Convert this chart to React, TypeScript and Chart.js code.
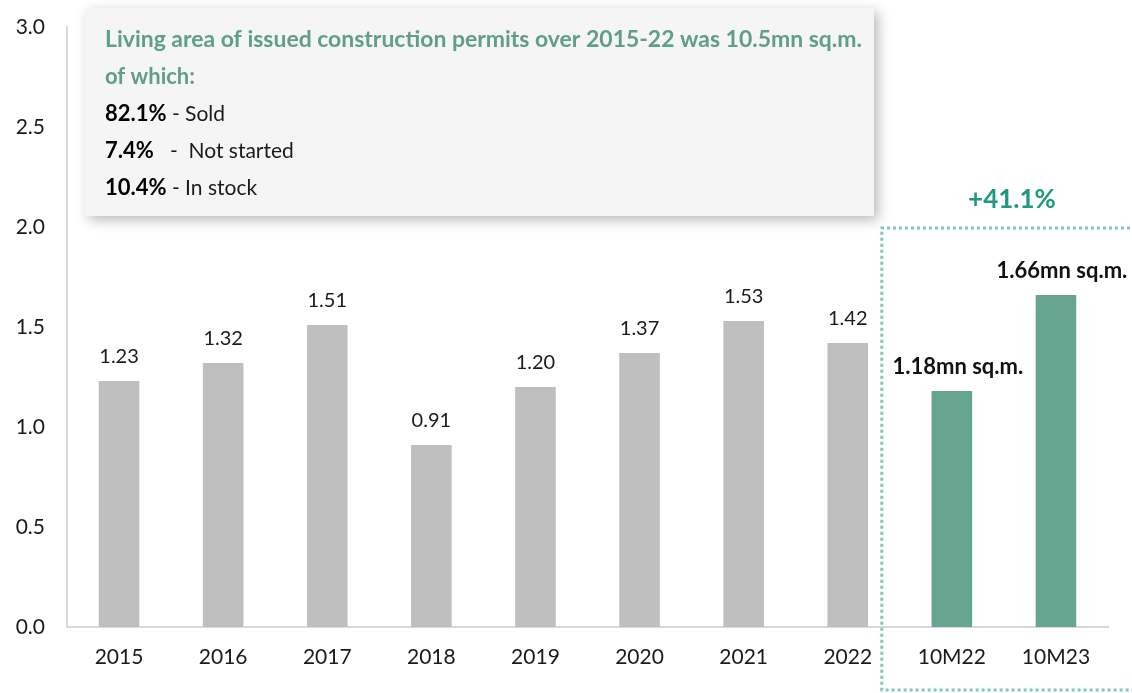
import React, { useEffect, useRef } from "react";
import { Chart, registerables } from "chart.js";

Chart.register(...registerables);

const categories = ["2015", "2016", "2017", "2018", "2019", "2020", "2021", "2022", "10M22", "10M23"];
const values = [1.23, 1.32, 1.51, 0.91, 1.2, 1.37, 1.53, 1.42, 1.18, 1.66];
const valueLabels = ["1.23", "1.32", "1.51", "0.91", "1.20", "1.37", "1.53", "1.42", "1.18mn sq.m.", "1.66mn sq.m."];
const highlighted = [false, false, false, false, false, false, false, false, true, true];
const growthLabel = "+41.1%";
const noteTitle = ["Living area of issued construction permits over 2015-22 was 10.5mn sq.m.", "of which:"];
const noteBold = ["82.1%", "7.4%", "10.4%"];
const noteRest = [" - Sold", "   -  Not started", " - In stock"];

const GRAY = "#bfbfbf";
const GREEN = "#68a591";
const FONT = "Lato, 'Open Sans', sans-serif";

const overlayPlugin = {
  id: "overlay",
  afterDatasetsDraw(chart: any) {
    const ctx = chart.ctx;
    const meta = chart.getDatasetMeta(0);
    ctx.save();
    // value labels
    meta.data.forEach((bar: any, i: number) => {
      ctx.textAlign = "center";
      ctx.textBaseline = "middle";
      if (highlighted[i]) {
        ctx.font = `bold 22px ${FONT}`;
        ctx.fillStyle = "#111111";
        ctx.fillText(valueLabels[i], bar.x + 6, bar.y - 24);
      } else {
        ctx.font = `20px ${FONT}`;
        ctx.fillStyle = "#1a1a1a";
        ctx.fillText(valueLabels[i], bar.x, bar.y - 24);
      }
    });
    // dotted highlight box
    const x0 = meta.data[8].x;
    const x1 = meta.data[9].x;
    const step = x1 - x0;
    const left = x0 - step / 2 - 18;
    const yScale = chart.scales.y;
    const top = yScale.getPixelForValue(2.0) + 1;
    ctx.strokeStyle = "#7fcab4";
    ctx.lineWidth = 3;
    ctx.setLineDash([3, 3]);
    ctx.beginPath();
    ctx.moveTo(chart.width + 10, top);
    ctx.lineTo(left, top);
    ctx.lineTo(left, 690);
    ctx.lineTo(chart.width + 10, 690);
    ctx.stroke();
    ctx.setLineDash([]);
    // growth label
    ctx.font = `bold 26px ${FONT}`;
    ctx.fillStyle = "#1f9a7f";
    ctx.textAlign = "center";
    ctx.textBaseline = "middle";
    ctx.fillText(growthLabel, 1012, 200);
    // note box
    ctx.save();
    ctx.shadowColor = "rgba(0,0,0,0.28)";
    ctx.shadowBlur = 12;
    ctx.shadowOffsetX = 4;
    ctx.shadowOffsetY = 4;
    ctx.fillStyle = "#f5f5f5";
    ctx.fillRect(85, 8, 789, 208);
    ctx.restore();
    ctx.textAlign = "left";
    ctx.textBaseline = "middle";
    ctx.fillStyle = "#5f9e88";
    ctx.font = `bold 23px ${FONT}`;
    ctx.fillText(noteTitle[0], 105, 40, 757);
    ctx.font = `bold 22px ${FONT}`;
    ctx.fillText(noteTitle[1], 105, 77);
    const ys = [114, 151, 188];
    noteBold.forEach((b, i) => {
      ctx.font = `bold 22px ${FONT}`;
      ctx.fillStyle = "#000000";
      ctx.fillText(b, 105, ys[i]);
      const w = ctx.measureText(b).width;
      ctx.font = `21px ${FONT}`;
      ctx.fillStyle = "#1a1a1a";
      ctx.fillText(noteRest[i], 105 + w, ys[i]);
    });
    ctx.restore();
  },
};

export default function App() {
  const ref = useRef<HTMLCanvasElement | null>(null);
  useEffect(() => {
    if (!ref.current) return;
    const chart = new Chart(ref.current, {
      type: "bar",
      data: {
        labels: categories,
        datasets: [
          {
            data: values,
            backgroundColor: highlighted.map((h) => (h ? GREEN : GRAY)),
            barPercentage: 0.39,
            categoryPercentage: 1,
          },
        ],
      },
      options: {
        animation: false,
        responsive: true,
        maintainAspectRatio: false,
        layout: { padding: { top: 27, right: 24, left: 0, bottom: 0 } },
        plugins: { legend: { display: false }, tooltip: { enabled: false } },
        scales: {
          x: {
            grid: { display: false, drawTicks: false },
            border: { display: true, color: "#d9d9d9", width: 2 },
            ticks: { color: "#1a1a1a", font: { family: FONT, size: 21 }, padding: 18, maxRotation: 0 },
            afterFit(scale: any) {
              scale.height = 66;
              scale.paddingLeft = 0;
              scale.paddingRight = 0;
            },
          },
          y: {
            min: 0,
            max: 3,
            grid: { display: false, drawTicks: false },
            border: { display: true, color: "#d9d9d9", width: 2 },
            ticks: {
              stepSize: 0.5,
              color: "#1a1a1a",
              font: { family: FONT, size: 21 },
              padding: 22,
              callback: (v: any) => Number(v).toFixed(1),
            },
            afterFit(scale: any) {
              scale.width = 67;
              scale.paddingTop = 0;
              scale.paddingBottom = 0;
            },
          },
        },
      },
      plugins: [overlayPlugin],
    });
    return () => chart.destroy();
  }, []);
  return (
    <div style={{ position: "fixed", left: 0, top: 0, width: 1132, height: 693, background: "#fff" }}>
      <canvas ref={ref} />
    </div>
  );
}
